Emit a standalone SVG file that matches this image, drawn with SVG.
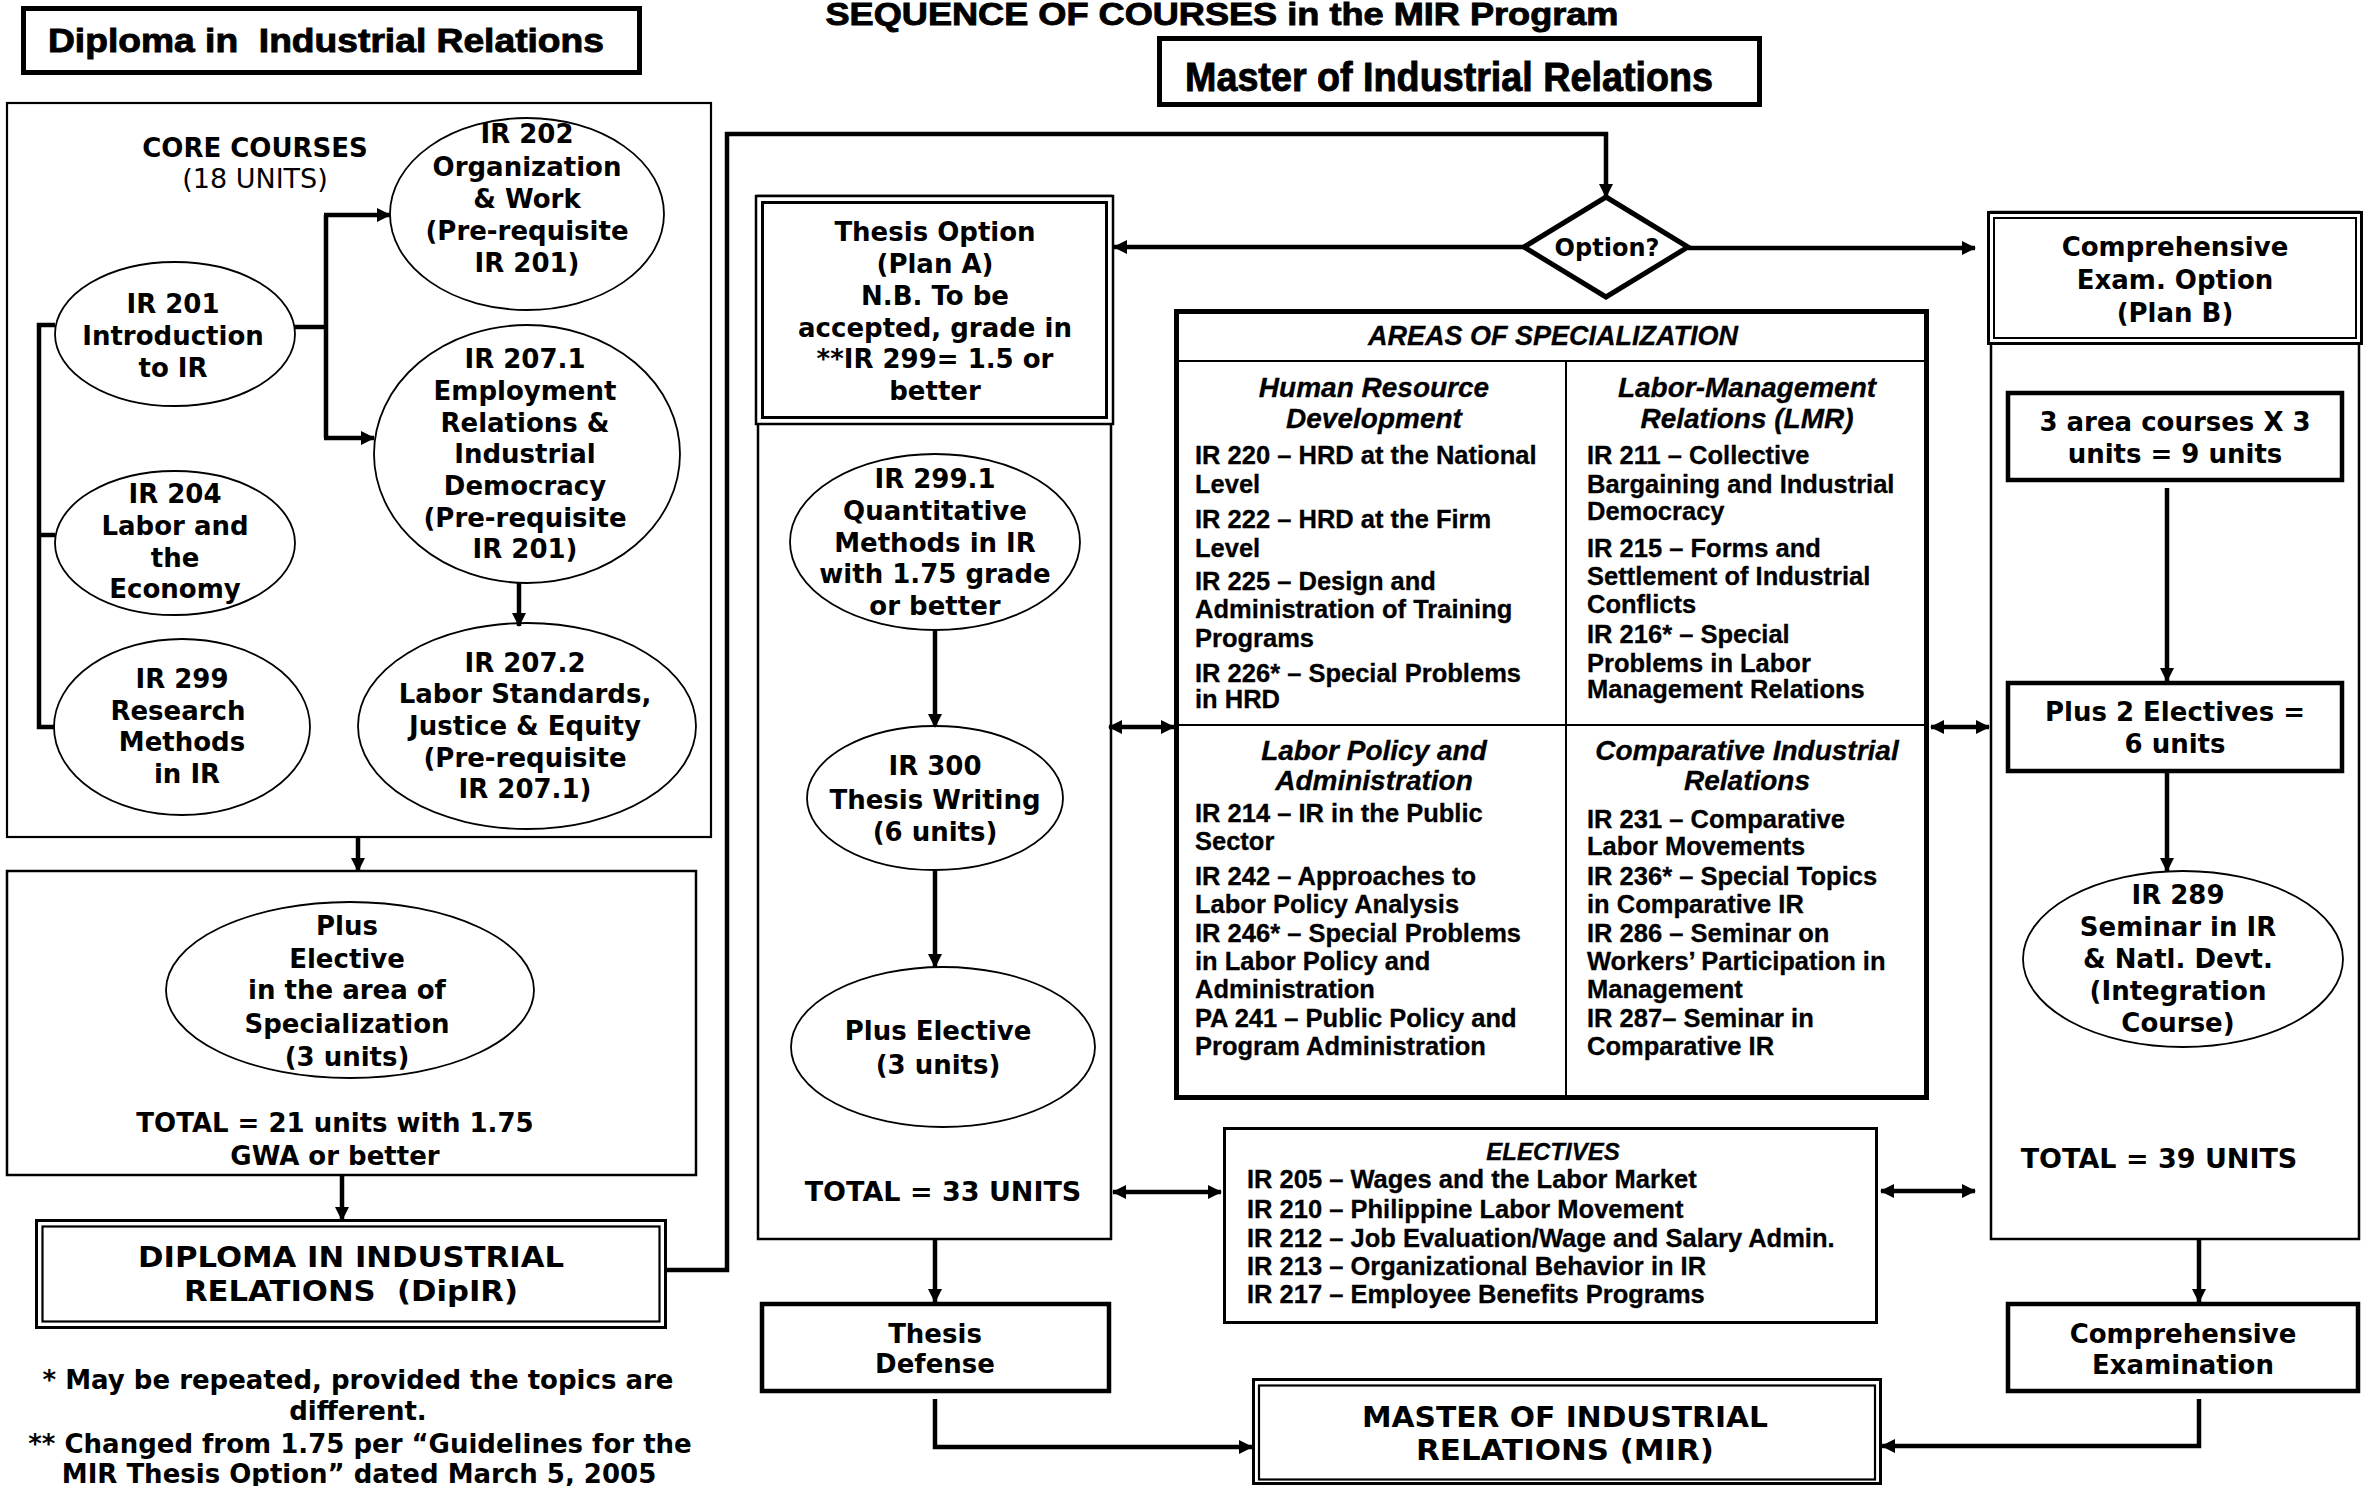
<svg xmlns="http://www.w3.org/2000/svg" width="2366" height="1486" viewBox="0 0 2366 1486">
<style>
text{fill:#000}
.v{font-family:"DejaVu Sans",Verdana,sans-serif;font-weight:bold;font-size:26px;text-anchor:middle}
.v24{font-size:24px}
.v27{font-size:27px}
.cap{font-size:28px}
.h{font-family:"Liberation Sans",Arial,sans-serif;font-weight:bold;font-size:36px;stroke:#000;stroke-width:0.9}
.n{font-family:"Liberation Sans",Arial,sans-serif;font-weight:bold;font-size:25.5px;stroke:#000;stroke-width:0.3}
.ni{font-family:"Liberation Sans",Arial,sans-serif;font-weight:bold;font-style:italic;font-size:28px;text-anchor:middle;stroke:#000;stroke-width:0.3}
.box{fill:#fff;stroke:#000}
.ell{fill:#fff;stroke:#000;stroke-width:1.8}
.c{fill:none;stroke:#000;stroke-width:4.5}
.ln{stroke:#000;stroke-width:2}
</style>
<defs>
<marker id="ah" viewBox="0 0 14 14" refX="13" refY="7" markerWidth="14" markerHeight="14" markerUnits="userSpaceOnUse" orient="auto-start-reverse"><path d="M0,0 L14,7 L0,14 z" fill="#000"/></marker>
</defs>
<rect width="2366" height="1486" fill="#fff"/>

<g id="title"><text class="h" x="1222" y="25" text-anchor="middle" style="font-size:32px" textLength="793" lengthAdjust="spacingAndGlyphs">SEQUENCE OF COURSES in the MIR Program</text></g>

<g id="diploma-title">
<rect class="box" x="23.5" y="8.5" width="616" height="64" stroke-width="5"/>
<text class="h" x="48" y="52" style="white-space:pre;font-size:33px" textLength="556" lengthAdjust="spacingAndGlyphs">Diploma in  Industrial Relations</text>
</g>

<g id="master-title">
<rect class="box" x="1159.5" y="38.5" width="600" height="66" stroke-width="5"/>
<text class="h" x="1185" y="91" style="font-size:40px" textLength="528" lengthAdjust="spacingAndGlyphs">Master of Industrial Relations</text>
</g>

<g id="core-box">
<rect class="box" x="7" y="103" width="704" height="734" stroke-width="2.2"/>
<text class="v" x="255" y="157">CORE COURSES</text>
<text class="v" x="255" y="188" style="font-weight:normal;font-size:27px">(18 UNITS)</text>
</g>

<g id="ir202">
<ellipse class="ell" cx="527" cy="214" rx="137" ry="96"/>
<text class="v"><tspan x="527" y="143">IR 202</tspan><tspan x="527" y="176">Organization</tspan><tspan x="527" y="208">&amp; Work</tspan><tspan x="527" y="240">(Pre-requisite</tspan><tspan x="527" y="272">IR 201)</tspan></text>
</g>
<g id="ir201">
<ellipse class="ell" cx="175" cy="334" rx="120" ry="72"/>
<text class="v"><tspan x="173" y="313">IR 201</tspan><tspan x="173" y="345">Introduction</tspan><tspan x="173" y="377">to IR</tspan></text>
</g>
<g id="ir204">
<ellipse class="ell" cx="175" cy="543" rx="120" ry="72"/>
<text class="v"><tspan x="175" y="503">IR 204</tspan><tspan x="175" y="535">Labor and</tspan><tspan x="175" y="567">the</tspan><tspan x="175" y="598">Economy</tspan></text>
</g>
<g id="ir299">
<ellipse class="ell" cx="182" cy="727" rx="128" ry="88"/>
<text class="v"><tspan x="182" y="688">IR 299</tspan><tspan x="178" y="720">Research</tspan><tspan x="182" y="751">Methods</tspan><tspan x="187" y="783">in IR</tspan></text>
</g>
<g id="ir2071">
<ellipse class="ell" cx="527" cy="454" rx="153" ry="129"/>
<text class="v"><tspan x="525" y="368">IR 207.1</tspan><tspan x="525" y="400">Employment</tspan><tspan x="525" y="432">Relations &amp;</tspan><tspan x="525" y="463">Industrial</tspan><tspan x="525" y="495">Democracy</tspan><tspan x="525" y="527">(Pre-requisite</tspan><tspan x="525" y="558">IR 201)</tspan></text>
</g>
<g id="ir2072">
<ellipse class="ell" cx="527" cy="726" rx="169" ry="103"/>
<text class="v"><tspan x="525" y="672">IR 207.2</tspan><tspan x="525" y="703">Labor Standards,</tspan><tspan x="525" y="735">Justice &amp; Equity</tspan><tspan x="525" y="767">(Pre-requisite</tspan><tspan x="525" y="798">IR 207.1)</tspan></text>
</g>

<g id="elective-box">
<rect class="box" x="7" y="871" width="689" height="304" stroke-width="2.5"/>
<ellipse class="ell" cx="350" cy="990" rx="184" ry="88"/>
<text class="v"><tspan x="347" y="935">Plus</tspan><tspan x="347" y="968">Elective</tspan><tspan x="347" y="999">in the area of</tspan><tspan x="347" y="1033">Specialization</tspan><tspan x="347" y="1066">(3 units)</tspan></text>
<text class="v"><tspan x="335" y="1132">TOTAL = 21 units with 1.75</tspan><tspan x="335" y="1165">GWA or better</tspan></text>
</g>

<g id="dipir">
<rect class="box" x="36.5" y="1220.5" width="629" height="107" stroke-width="3"/>
<rect fill="none" stroke="#000" x="42.5" y="1226.5" width="617" height="95" stroke-width="2.2"/>
<text class="v cap" x="351" y="1267" textLength="426" lengthAdjust="spacingAndGlyphs">DIPLOMA IN INDUSTRIAL</text>
<text class="v cap" x="351" y="1301" style="white-space:pre" textLength="334" lengthAdjust="spacingAndGlyphs">RELATIONS  (DipIR)</text>
</g>

<g id="footnotes">
<text class="v"><tspan x="358" y="1389">* May be repeated, provided the topics are</tspan><tspan x="358" y="1420">different.</tspan><tspan x="360" y="1453">** Changed from 1.75 per “Guidelines for the</tspan><tspan x="359" y="1483">MIR Thesis Option” dated March 5, 2005</tspan></text>
</g>

<g id="thesis-column">
<rect class="box" x="758" y="196" width="353" height="1043" stroke-width="2.5"/>
</g>
<g id="thesis-header">
<rect class="box" x="756" y="196" width="357" height="228" stroke-width="2.5"/>
<rect fill="none" stroke="#000" x="762.5" y="202.5" width="344" height="215" stroke-width="3"/>
<text class="v"><tspan x="935" y="241">Thesis Option</tspan><tspan x="935" y="273">(Plan A)</tspan><tspan x="935" y="305">N.B. To be</tspan><tspan x="935" y="337">accepted, grade in</tspan><tspan x="935" y="368">**IR 299= 1.5 or</tspan><tspan x="935" y="400">better</tspan></text>
</g>
<g id="ir2991">
<ellipse class="ell" cx="935" cy="542" rx="145" ry="88"/>
<text class="v"><tspan x="935" y="488">IR 299.1</tspan><tspan x="935" y="520">Quantitative</tspan><tspan x="935" y="552">Methods in IR</tspan><tspan x="935" y="583">with 1.75 grade</tspan><tspan x="935" y="615">or better</tspan></text>
</g>
<g id="ir300">
<ellipse class="ell" cx="935" cy="798" rx="128" ry="72"/>
<text class="v"><tspan x="935" y="775">IR 300</tspan><tspan x="935" y="809">Thesis Writing</tspan><tspan x="935" y="841">(6 units)</tspan></text>
</g>
<g id="thesis-elective">
<ellipse class="ell" cx="943" cy="1047" rx="152" ry="80"/>
<text class="v"><tspan x="938" y="1040">Plus Elective</tspan><tspan x="938" y="1074">(3 units)</tspan></text>
</g>
<g id="thesis-total"><text class="v v27" x="943" y="1201">TOTAL = 33 UNITS</text></g>
<g id="thesis-defense">
<rect class="box" x="762" y="1304" width="347" height="87" stroke-width="4.5"/>
<text class="v"><tspan x="935" y="1343">Thesis</tspan><tspan x="935" y="1373">Defense</tspan></text>
</g>

<g id="option">
<polygon class="box" points="1606,197 1688,247 1606,297 1524,247" stroke-width="5"/>
<text class="v v24" x="1607" y="256">Option?</text>
</g>

<g id="areas">
<rect class="box" x="1176.5" y="311.5" width="750" height="786" stroke-width="5"/>
<line class="ln" x1="1176" y1="361" x2="1927" y2="361"/>
<line class="ln" x1="1566" y1="361" x2="1566" y2="1098"/>
<line class="ln" x1="1176" y1="725" x2="1927" y2="725" stroke-width="2.5"/>
<text class="ni" x="1553" y="345" style="font-size:27px">AREAS OF SPECIALIZATION</text>
<text class="ni"><tspan x="1374" y="397">Human Resource</tspan><tspan x="1374" y="428">Development</tspan></text>
<text class="n"><tspan x="1195" y="464">IR 220 – HRD at the National</tspan><tspan x="1195" y="493">Level</tspan><tspan x="1195" y="528">IR 222 – HRD at the Firm</tspan><tspan x="1195" y="557">Level</tspan><tspan x="1195" y="590">IR 225 – Design and</tspan><tspan x="1195" y="618">Administration of Training</tspan><tspan x="1195" y="647">Programs</tspan><tspan x="1195" y="682">IR 226* – Special Problems</tspan><tspan x="1195" y="708">in HRD</tspan></text>
<text class="ni"><tspan x="1747" y="397">Labor-Management</tspan><tspan x="1747" y="428">Relations (LMR)</tspan></text>
<text class="n"><tspan x="1587" y="464">IR 211 – Collective</tspan><tspan x="1587" y="493">Bargaining and Industrial</tspan><tspan x="1587" y="520">Democracy</tspan><tspan x="1587" y="557">IR 215 – Forms and</tspan><tspan x="1587" y="585">Settlement of Industrial</tspan><tspan x="1587" y="613">Conflicts</tspan><tspan x="1587" y="643">IR 216* – Special</tspan><tspan x="1587" y="672">Problems in Labor</tspan><tspan x="1587" y="698">Management Relations</tspan></text>
<text class="ni"><tspan x="1374" y="760">Labor Policy and</tspan><tspan x="1374" y="790">Administration</tspan></text>
<text class="n"><tspan x="1195" y="822">IR 214 – IR in the Public</tspan><tspan x="1195" y="850">Sector</tspan><tspan x="1195" y="885">IR 242 – Approaches to</tspan><tspan x="1195" y="913">Labor Policy Analysis</tspan><tspan x="1195" y="942">IR 246* – Special Problems</tspan><tspan x="1195" y="970">in Labor Policy and</tspan><tspan x="1195" y="998">Administration</tspan><tspan x="1195" y="1027">PA 241 – Public Policy and</tspan><tspan x="1195" y="1055">Program Administration</tspan></text>
<text class="ni"><tspan x="1747" y="760">Comparative Industrial</tspan><tspan x="1747" y="790">Relations</tspan></text>
<text class="n"><tspan x="1587" y="828">IR 231 – Comparative</tspan><tspan x="1587" y="855">Labor Movements</tspan><tspan x="1587" y="885">IR 236* – Special Topics</tspan><tspan x="1587" y="913">in Comparative IR</tspan><tspan x="1587" y="942">IR 286 – Seminar on</tspan><tspan x="1587" y="970">Workers’ Participation in</tspan><tspan x="1587" y="998">Management</tspan><tspan x="1587" y="1027">IR 287– Seminar in</tspan><tspan x="1587" y="1055">Comparative IR</tspan></text>
</g>

<g id="electives">
<rect class="box" x="1224.5" y="1128.5" width="652" height="194" stroke-width="3"/>
<text class="ni" x="1553" y="1160" style="font-size:24px">ELECTIVES</text>
<text class="n"><tspan x="1247" y="1188">IR 205 – Wages and the Labor Market</tspan><tspan x="1247" y="1218">IR 210 – Philippine Labor Movement</tspan><tspan x="1247" y="1247">IR 212 – Job Evaluation/Wage and Salary Admin.</tspan><tspan x="1247" y="1275">IR 213 – Organizational Behavior in IR</tspan><tspan x="1247" y="1303">IR 217 – Employee Benefits Programs</tspan></text>
</g>

<g id="planb-column">
<rect class="box" x="1991" y="212" width="368" height="1027" stroke-width="2.5"/>
</g>
<g id="planb-header">
<rect class="box" x="1988.5" y="212.5" width="373" height="131" stroke-width="3"/>
<rect fill="none" stroke="#000" x="1994" y="218" width="362" height="120" stroke-width="2"/>
<text class="v"><tspan x="2175" y="256">Comprehensive</tspan><tspan x="2175" y="289">Exam. Option</tspan><tspan x="2175" y="322">(Plan B)</tspan></text>
</g>
<g id="area-courses">
<rect class="box" x="2008" y="393" width="334" height="87" stroke-width="4.5"/>
<text class="v"><tspan x="2175" y="431">3 area courses X 3</tspan><tspan x="2175" y="463">units = 9 units</tspan></text>
</g>
<g id="plus-electives">
<rect class="box" x="2008" y="683" width="334" height="88" stroke-width="4.5"/>
<text class="v"><tspan x="2175" y="721">Plus 2 Electives =</tspan><tspan x="2175" y="753">6 units</tspan></text>
</g>
<g id="ir289">
<ellipse class="ell" cx="2183" cy="959" rx="160" ry="88"/>
<text class="v"><tspan x="2178" y="904">IR 289</tspan><tspan x="2178" y="936">Seminar in IR</tspan><tspan x="2178" y="968">&amp; Natl. Devt.</tspan><tspan x="2178" y="1000">(Integration</tspan><tspan x="2178" y="1032">Course)</tspan></text>
</g>
<g id="planb-total"><text class="v v27" x="2159" y="1168">TOTAL = 39 UNITS</text></g>
<g id="comp-exam">
<rect class="box" x="2008" y="1304" width="350" height="87" stroke-width="4.5"/>
<text class="v"><tspan x="2183" y="1343">Comprehensive</tspan><tspan x="2183" y="1374">Examination</tspan></text>
</g>

<g id="mir">
<rect class="box" x="1253.5" y="1379.5" width="627" height="104" stroke-width="3"/>
<rect fill="none" stroke="#000" x="1259" y="1385.5" width="616" height="94" stroke-width="2.2"/>
<text class="v cap" x="1565" y="1427" textLength="406" lengthAdjust="spacingAndGlyphs">MASTER OF INDUSTRIAL</text>
<text class="v cap" x="1565" y="1460" textLength="298" lengthAdjust="spacingAndGlyphs">RELATIONS (MIR)</text>
</g>

<g id="connectors">
<path class="c" d="M55,325 H39 V727 H55" stroke-width="6.5"/>
<path class="c" d="M39,535 H55" stroke-width="6.5"/>
<path class="c" d="M294,327 H326" stroke-width="6.5"/>
<path class="c" d="M326,215 V438" stroke-width="5"/>
<path class="c" d="M324,215 H390" stroke-width="4" marker-end="url(#ah)"/>
<path class="c" d="M324,438 H374" stroke-width="4" marker-end="url(#ah)"/>
<path class="c" d="M519,583 V626" stroke-width="3.5" marker-end="url(#ah)"/>
<path class="c" d="M358,837 V871" stroke-width="3.5" marker-end="url(#ah)"/>
<path class="c" d="M342,1175 V1220" stroke-width="3.5" marker-end="url(#ah)"/>
<path class="c" d="M666,1270 H727 V134 H1606 V197" stroke-width="5.5" marker-end="url(#ah)"/>
<path class="c" d="M1524,247 H1114" marker-end="url(#ah)"/>
<path class="c" d="M1688,248 H1975" marker-end="url(#ah)"/>
<path class="c" d="M935,631 V727" marker-end="url(#ah)"/>
<path class="c" d="M935,870 V967" marker-end="url(#ah)"/>
<path class="c" d="M935,1239 V1302" marker-end="url(#ah)"/>
<path class="c" d="M935,1399 V1447 H1252" stroke-width="5.5" marker-end="url(#ah)"/>
<path class="c" d="M1109,727 H1174" stroke-width="4" marker-start="url(#ah)" marker-end="url(#ah)"/>
<path class="c" d="M1931,727 H1989" stroke-width="4" marker-start="url(#ah)" marker-end="url(#ah)"/>
<path class="c" d="M1113,1192 H1221" stroke-width="4" marker-start="url(#ah)" marker-end="url(#ah)"/>
<path class="c" d="M1881,1191 H1975" stroke-width="4" marker-start="url(#ah)" marker-end="url(#ah)"/>
<path class="c" d="M2167,488 V681" marker-end="url(#ah)"/>
<path class="c" d="M2167,773 V871" marker-end="url(#ah)"/>
<path class="c" d="M2199,1239 V1302" marker-end="url(#ah)"/>
<path class="c" d="M2199,1399 V1446 H1882" stroke-width="5.5" marker-end="url(#ah)"/>
</g>
</svg>
